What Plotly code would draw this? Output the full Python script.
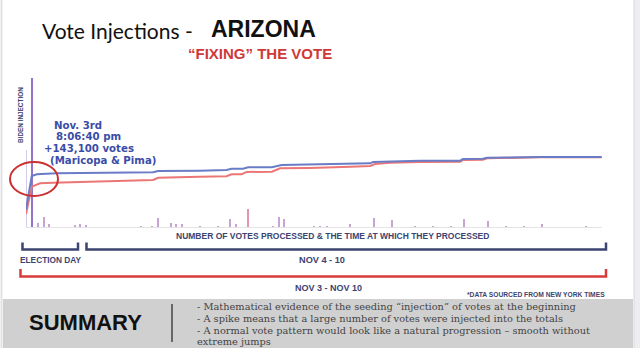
import plotly.graph_objects as go

W, H = 640, 348

# ---------------- data ----------------
# hours after polls closed (Nov 3, ~8pm) ; vote totals in arbitrary units
biden_hours = [0, 1.6, 3.0, 8.5, 35.3, 36.7, 48.3, 55.7, 57.1, 60.3, 61.7, 68.3, 71.0,
               78.9, 90.0, 95.6, 96.4, 101.1, 109.4, 120.6, 121.4, 126.9, 128.1, 142.8, 159.9]
biden_votes = [22, 63.8, 65.9, 67.1, 68.4, 70.0, 70.4, 71.3, 72.9, 72.9, 74.6, 74.6, 77.5,
               77.9, 79.1, 79.6, 81.3, 82.1, 82.9, 82.9, 85.0, 85.4, 86.6, 87.5, 87.5]

trump_hours = [0, 1.6, 3.9, 7.5, 35.3, 36.7, 48.3, 55.7, 57.1, 59.9, 61.3, 68.3, 70.6,
               78.9, 90.0, 95.6, 96.9, 101.1, 109.4, 120.6, 121.4, 126.9, 128.1, 142.8, 159.9]
trump_votes = [16.3, 50.4, 54.6, 55.4, 58.8, 61.6, 62.9, 63.4, 65.9, 65.9, 68.8, 69.1, 73.4,
               73.8, 75.4, 76.3, 78.8, 80.4, 81.3, 81.6, 83.8, 84.1, 85.9, 87.1, 87.1]

spike_hours = [0.15, 1.67, 3.33, 5.0, 6.5, 13.6, 15.0, 16.7, 31.9, 35.0, 36.7, 40.3, 41.7,
               43.3, 48.3, 53.3, 56.7, 58.3, 61.7, 68.6, 70.3, 71.8, 80.0, 81.7, 83.6,
               90.0, 96.7, 101.7, 108.1, 113.1, 118.1, 121.7, 128.3, 133.3, 138.3, 143.3, 155.6]
spike_votes = [96, 186, 5, 12.5, 4, 2.5, 4, 2.5, 1.2, 1.2, 11, 5, 4,
               4, 1.2, 1.2, 10, 4, 22.5, 1.2, 12.5, 10, 1.2, 1.2, 1.2,
               4, 11, 9, 1.2, 1.2, 1.2, 10, 7.5, 1.2, 1.2, 4, 1.2]

callout_lines = ["Nov. 3rd", "8:06:40 pm", "+143,100 votes", "(Maricopa &amp; Pima)"]

summary_lines = [
    "- Mathematical evidence of the seeding “injection” of votes at the beginning",
    "- A spike means that a large number of votes were injected into the totals",
    "- A normal vote pattern would look like a natural progression – smooth without",
    "extreme jumps",
]

# ---------------- helpers (pixel -> paper) ----------------
def px(x):
    return x / W


def py(y):
    return 1 - y / H


SANS = "Liberation Sans, Arial, sans-serif"
SERIF = "DejaVu Serif, Liberation Serif, serif"
NAVY = "#3c4470"

spike_colors = []
for i, v in enumerate(spike_votes):
    if i == 0:
        spike_colors.append("#d2cceb")
    elif i == 1:
        spike_colors.append("#9275c8")
    elif v > 15:
        spike_colors.append("#e592ad")
    else:
        spike_colors.append("#c9a2d6")

fig = go.Figure()
fig.add_trace(go.Bar(x=spike_hours, y=spike_votes, width=0.4,
                     marker=dict(color=spike_colors, line=dict(width=0)),
                     hoverinfo="skip"))
fig.add_trace(go.Scatter(x=trump_hours, y=trump_votes, mode="lines",
                         line=dict(color="#ec7676", width=2), hoverinfo="skip"))
fig.add_trace(go.Scatter(x=biden_hours, y=biden_votes, mode="lines",
                         line=dict(color="#6a7cc6", width=2), hoverinfo="skip"))

shapes = []
# slide frame edges
shapes.append(dict(type="rect", xref="paper", yref="paper", x0=px(634), x1=px(640),
                   y0=0, y1=1, fillcolor="#eeeef2", line=dict(width=0), layer="below"))
shapes.append(dict(type="line", xref="paper", yref="paper", x0=px(634), x1=px(634),
                   y0=0, y1=1, line=dict(color="#d6d6dc", width=1)))
shapes.append(dict(type="line", xref="paper", yref="paper", x0=px(1.5), x1=px(1.5),
                   y0=0, y1=1, line=dict(color="#e2e2e6", width=2)))
# summary box
shapes.append(dict(type="rect", xref="paper", yref="paper", x0=px(3), x1=px(633),
                   y0=0, y1=py(299), fillcolor="#d0d0d0", line=dict(width=0), layer="below"))
shapes.append(dict(type="line", xref="paper", yref="paper", x0=px(172), x1=px(172),
                   y0=py(342), y1=py(304), line=dict(color="#444444", width=1.5)))
# red circle
shapes.append(dict(type="circle", xref="paper", yref="paper", x0=px(10), x1=px(58),
                   y0=py(196), y1=py(162), line=dict(color="#cc3030", width=2)))


def bracket(x0, x1, ytop, ybot, color):
    return dict(type="path", xref="paper", yref="paper",
                path=f"M {px(x0)},{py(ytop)} L {px(x0)},{py(ybot)} L {px(x1)},{py(ybot)} L {px(x1)},{py(ytop)}",
                line=dict(color=color, width=2.5))


shapes.append(bracket(22.5, 78, 242.5, 249.5, NAVY))
shapes.append(bracket(86.5, 606, 242.5, 249.5, NAVY))
shapes.append(bracket(20.5, 606, 269, 276.5, "#d83a3a"))

ann = []


def text(x, y, t, size, color, family, xanchor="center", angle=0):
    ann.append(dict(x=px(x), y=py(y), xref="paper", yref="paper", text=t, showarrow=False,
                    xanchor=xanchor, yanchor="middle", textangle=angle, borderpad=0,
                    font=dict(size=size, color=color, family=family)))


# titles
text(41, 31, "Vote Injections -", 21, "#111111", "Lato, Open Sans, sans-serif", "left")
text(263, 29, "<b>ARIZONA</b>", 23, "#111111", SANS)
text(260, 53, "<b>“FIXING” THE VOTE</b>", 15, "#d03838", SANS)

# callout about the injection
blue_txt = "#3b4ca8"
callout_x = [53, 55, 43, 49]
for i, line in enumerate(callout_lines):
    text(callout_x[i], 125 + 11.7 * i, f"<b>{line}</b>", 10.2, blue_txt,
         "DejaVu Sans, sans-serif", "left")
text(20, 115, "<b>BIDEN INJECTION</b>", 6.4, NAVY, SANS, "center", -90)

# axis-like labels
text(332, 236, "<b>NUMBER OF VOTES PROCESSED &amp; THE TIME AT WHICH THEY PROCESSED</b>", 8.5, NAVY, SANS)
text(50, 259.5, "<b>ELECTION DAY</b>", 8.3, NAVY, SANS)
text(321.5, 260, "<b>NOV 4 - 10</b>", 9.2, NAVY, SANS)
text(328, 287.5, "<b>NOV 3 - NOV 10</b>", 9, NAVY, SANS)
text(606, 294, "<b>*DATA SOURCED FROM NEW YORK TIMES</b>", 6.7, NAVY, SANS, "right")

# summary
text(85, 322, "<b>SUMMARY</b>", 22, "#111111", SANS)
for i, line in enumerate(summary_lines):
    text(196, 306.8 + 11.7 * i, line, 9.8, "#444444", SERIF, "left")

fig.update_layout(
    width=W, height=H,
    margin=dict(l=0, r=0, t=0, b=0),
    paper_bgcolor="white", plot_bgcolor="rgba(0,0,0,0)",
    showlegend=False, bargap=0,
    shapes=shapes, annotations=ann,
    xaxis=dict(domain=[px(26), px(602)], range=[0, 160], showgrid=False, zeroline=False,
               showticklabels=False, ticks="", showline=True, linecolor="#e4e4e4", linewidth=1),
    yaxis=dict(domain=[py(227), py(75)], range=[0, 190], showgrid=False, zeroline=False,
               showticklabels=False, ticks="", showline=False),
)

fig.write_html("out.html")
